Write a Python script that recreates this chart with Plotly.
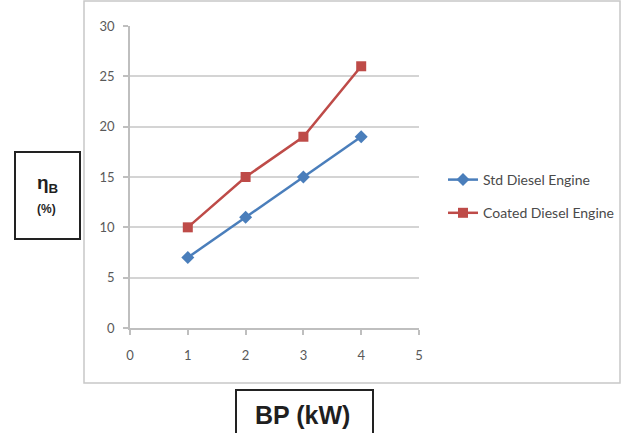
import plotly.graph_objects as go

W, H = 624, 433

bp = [1, 2, 3, 4]
std_eff = [7, 11, 15, 19]
coated_eff = [10, 15, 19, 26]
series_names = ["Std Diesel Engine", "Coated Diesel Engine"]
x_ticks = [0, 1, 2, 3, 4, 5]
y_ticks = [0, 5, 10, 15, 20, 25, 30]

FONT = "Lato, Liberation Sans, Arial, sans-serif"

def px(x):
    return x / W

def py(y):
    return 1 - y / H

fig = go.Figure()
fig.add_trace(go.Scatter(
    x=bp, y=std_eff, name=series_names[0], mode="lines+markers",
    line=dict(color="#4a7ebb", width=2.5),
    marker=dict(symbol="diamond", size=10, color="#4a7ebb"),
    legendgroup="a",
))
fig.add_trace(go.Scatter(
    x=bp, y=coated_eff, name=series_names[1], mode="lines+markers",
    line=dict(color="#be4b48", width=2.5),
    marker=dict(symbol="square", size=10, color="#be4b48"),
    legendgroup="b",
))

axis_common = dict(
    showline=True, linecolor="#bfbfbf", linewidth=1.5,
    ticks="outside", tickcolor="#bfbfbf", ticklen=5, tickwidth=1.5,
    tickfont=dict(family=FONT, size=13, color="#595959"),
    zeroline=False, fixedrange=True, automargin=False,
)

fig.update_layout(
    width=W, height=H,
    margin=dict(l=0, r=0, t=0, b=0, pad=0, autoexpand=False),
    paper_bgcolor="white", plot_bgcolor="white",
    xaxis=dict(domain=[px(130), px(419)], range=[0, 5], tickvals=x_ticks,
               showgrid=False, ticklabelstandoff=10, **axis_common),
    yaxis=dict(domain=[py(328), py(26)], range=[0, 30], tickvals=y_ticks,
               showgrid=True, gridcolor="#d4d4d4", gridwidth=1.5,
               ticklabelstandoff=6, **axis_common),
    legend=dict(x=px(443), y=py(164), xanchor="left", yanchor="top",
                font=dict(family=FONT, size=14, color="#4a4a4a"),
                bgcolor="rgba(0,0,0,0)", itemwidth=30, tracegroupgap=12),
    showlegend=True,
    shapes=[
        dict(type="rect", xref="paper", yref="paper",
             x0=px(84), x1=px(620), y0=py(383), y1=py(1),
             line=dict(color="#c8c8c8", width=1.5), layer="below"),
        dict(type="rect", xref="paper", yref="paper",
             x0=px(15), x1=px(80), y0=py(239), y1=py(152),
             line=dict(color="#222222", width=2)),
        dict(type="rect", xref="paper", yref="paper",
             x0=px(236), x1=px(373), y0=py(445), y1=py(390),
             line=dict(color="#222222", width=2)),
    ],
    annotations=[
        dict(xref="paper", yref="paper", x=px(47), y=py(184),
             xanchor="center", text="<b>η<sub>B</sub></b>", showarrow=False,
             font=dict(family="Liberation Sans, Arial", size=19, color="#1f1f1f")),
        dict(xref="paper", yref="paper", x=px(46), y=py(209),
             xanchor="center", text="<b>(%)</b>", showarrow=False,
             font=dict(family="Liberation Sans, Arial", size=12, color="#1f1f1f")),
        dict(xref="paper", yref="paper", x=px(302), y=py(431),
             text="<b>BP (kW)</b>", showarrow=False,
             font=dict(family="Liberation Sans, Arial", size=25, color="#1f1f1f")),
    ],
)

fig.write_html("out.html")
